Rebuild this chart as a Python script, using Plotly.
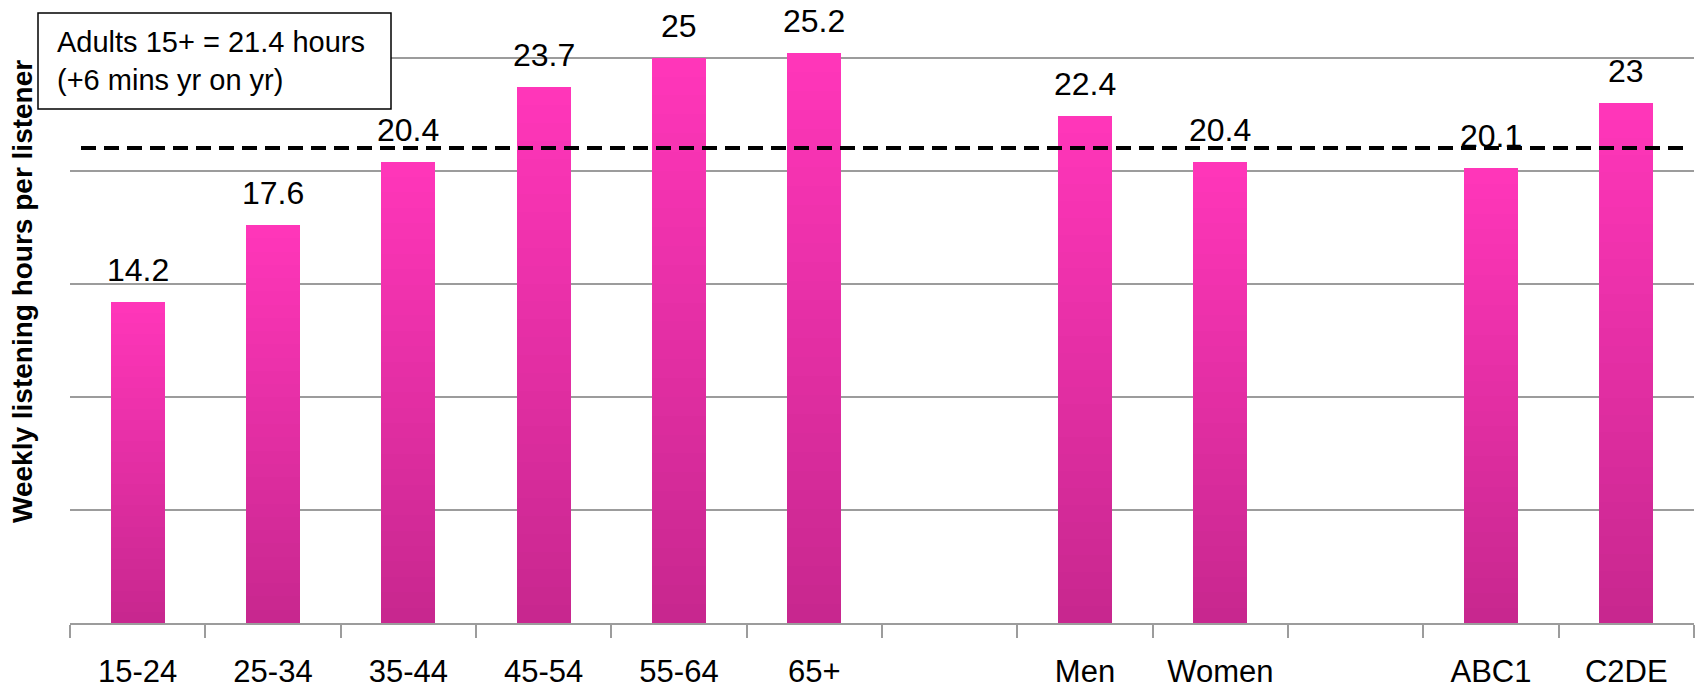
import plotly.graph_objects as go

# ---- data ----
categories = ['15-24', '25-34', '35-44', '45-54', '55-64', '65+', ' ', 'Men', 'Women', '  ', 'ABC1', 'C2DE']
values = [14.2, 17.6, 20.4, 23.7, 25.0, 25.2, None, 22.4, 20.4, None, 20.1, 23.0]
reference_level = 21.0
y_title = 'Weekly listening hours per listener'
note_lines = ['Adults 15+ = 21.4 hours', '(+6 mins yr on yr)']

# ---- layout helpers ----
W, H = 1701, 691
ML, MR, MT, MB = 70, 7, 0, 68
PW = W - ML - MR
PH = H - MT - MB


def px_x(p):
    return (p - ML) / PW


def px_y(p):
    return 1 - (p - MT) / PH


FONT = 'Liberation Sans, Arial, sans-serif'
GRID = '#9c9c9c'

# vertical gradient per bar: stacked slices of each bar's own value
N = 30
top_c = (255, 54, 185)
bot_c = (200, 39, 143)
fig = go.Figure()
for k in range(N):
    t = k / (N - 1)
    c = tuple(round(bot_c[i] + (top_c[i] - bot_c[i]) * t) for i in range(3))
    fig.add_trace(go.Bar(
        x=categories,
        y=[None if v is None else v / N for v in values],
        width=0.4,
        marker=dict(color='rgb(%d,%d,%d)' % c, line=dict(width=0)),
        showlegend=False,
        hoverinfo='skip',
    ))

# value labels
for cat, v in zip(categories, values):
    if v is None:
        continue
    fig.add_annotation(x=cat, y=v, text=f'{v:g}', showarrow=False,
                       yanchor='bottom', yshift=12,
                       font=dict(family=FONT, size=32, color='black'))

# average reference dashed line
fig.add_shape(type='line', xref='paper', yref='y',
              x0=px_x(81), x1=px_x(1686), y0=reference_level, y1=reference_level,
              line=dict(color='black', width=4, dash='15px,8px'), layer='above')

# note box
fig.add_shape(type='rect', xref='paper', yref='paper',
              x0=px_x(38), x1=px_x(391), y0=px_y(109), y1=px_y(13),
              line=dict(color='black', width=1.5), fillcolor='white', layer='above')
fig.add_annotation(xref='paper', yref='paper', x=px_x(55), y=px_y(61),
                   xanchor='left', yanchor='middle', align='left', showarrow=False,
                   text='<br>'.join(note_lines),
                   font=dict(family=FONT, size=29, color='black'))

# y-axis title
fig.add_annotation(xref='paper', yref='paper', x=px_x(22), y=px_y(292),
                   xanchor='center', yanchor='middle', textangle=-90, showarrow=False,
                   text='<b>' + y_title + '</b>',
                   font=dict(family=FONT, size=28, color='black'))

fig.update_layout(
    width=W, height=H,
    margin=dict(l=ML, r=MR, t=MT, b=MB, pad=0),
    barmode='stack',
    plot_bgcolor='white', paper_bgcolor='white',
    font=dict(family=FONT, color='black'),
    xaxis=dict(type='category', categoryorder='array', categoryarray=categories,
               showline=True, linecolor=GRID, linewidth=2,
               ticks='outside', tickson='boundaries', ticklen=13, tickwidth=2, tickcolor=GRID,
               tickfont=dict(family=FONT, size=31, color='black'),
               ticklabelstandoff=20, showgrid=False, automargin=False),
    yaxis=dict(range=[0, 27.55], tick0=0, dtick=5, showgrid=True, gridcolor=GRID, gridwidth=2,
               showticklabels=False, zeroline=False, showline=False, ticks='',
               automargin=False),
)

fig.write_html('out.html')
